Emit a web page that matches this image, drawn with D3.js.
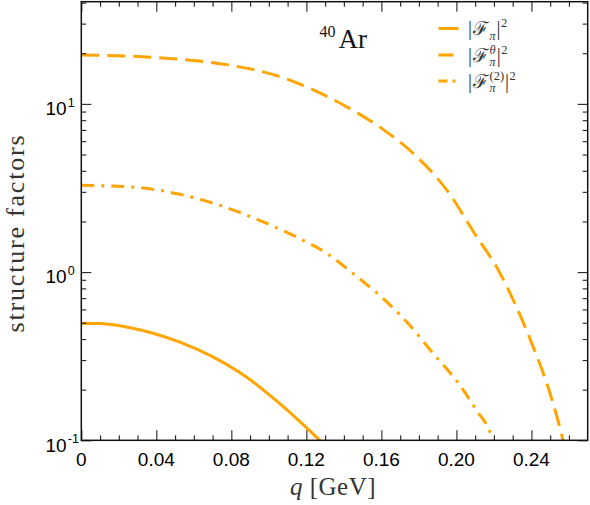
<!DOCTYPE html>
<html><head><meta charset="utf-8">
<script src="https://cdn.jsdelivr.net/npm/d3@7"></script>
<style>body{margin:0;background:#fff}svg{display:block}</style>
</head><body>
<svg id="c" width="590" height="505"></svg>
<script>
// ---- data ----
const qSolid = [0, 0.010, 0.026, 0.0526, 0.0704, 0.0882, 0.106, 0.120, 0.1272];
const vSolid = [0.497, 0.494, 0.467, 0.383, 0.312, 0.237, 0.1645, 0.119, 0.1];

const qTheta = [0, 0.026, 0.0526, 0.079, 0.106, 0.124, 0.1415, 0.159, 0.177, 0.195, 0.211, 0.2215, 0.232, 0.241, 0.250, 0.256, 0.2568];
const vTheta = [19.5, 19.2, 18.4, 17.0, 14.5, 12.06, 9.6, 7.3, 5.07, 3.06, 1.61, 1.07, 0.62, 0.358, 0.189, 0.109, 0.1];

const qTwo = [0, 0.026, 0.0526, 0.074, 0.095, 0.1165, 0.131, 0.145, 0.161, 0.1752, 0.1877, 0.200, 0.2108, 0.2183, 0.2194];
const vTwo = [3.28, 3.21, 2.90, 2.49, 2.03, 1.58, 1.29, 0.978, 0.695, 0.482, 0.327, 0.2266, 0.150, 0.109, 0.1];

const xTicks = [0, 0.04, 0.08, 0.12, 0.16, 0.20, 0.24];
const xTickLabels = ["0", "0.04", "0.08", "0.12", "0.16", "0.20", "0.24"];
const xMinor = d3.range(1, 27).map(i => i / 100);
const yTicks = [0.1, 1, 10];
const yTickExp = ["-1", "0", "1"];
const yMinor = [0.2,0.3,0.4,0.5,0.6,0.7,0.8,0.9,2,3,4,5,6,7,8,9,20,30,40];

const xDomain = [0, 0.27];
const yDomain = [0.1, 40.5];

// ---- layout ----
const M = {l: 81.3, r: 587.7, t: 1.7, b: 440.3};
const COLOR = "#ffa500";
const svg = d3.select("#c");
const x = d3.scaleLinear().domain(xDomain).range([M.l, M.r]);
const y = d3.scaleLog().domain(yDomain).range([M.b, M.t]);

svg.append("defs").append("clipPath").attr("id", "clip")
  .append("rect").attr("x", M.l).attr("y", M.t).attr("width", M.r - M.l).attr("height", M.b - M.t);

// curves
const series = [
  {q: qSolid, v: vSolid, dash: null},
  {q: qTheta, v: vTheta, dash: "18,8"},
  {q: qTwo, v: vTwo, dash: "13,7,3,7"}
];
const line = d3.line().x(d => x(d[0])).y(d => y(d[1])).curve(d3.curveMonotoneX);
const gc = svg.append("g").attr("clip-path", "url(#clip)");
series.forEach(s => {
  gc.append("path").datum(s.q.map((q, i) => [q, s.v[i]]))
    .attr("d", line).attr("fill", "none").attr("stroke", COLOR)
    .attr("stroke-width", 3).attr("stroke-dasharray", s.dash);
});

// axes (ticks pointing inward on all sides)
function styleAxis(g) {
  g.select(".domain").remove();
  g.selectAll(".tick line").attr("stroke", "#222").attr("stroke-width", 1.1);
  g.selectAll(".tick text").remove();
}
const xMinorOnly = xMinor.filter(v => !xTicks.some(t => Math.abs(t - v) < 1e-9));
svg.append("g").attr("transform", `translate(0,${M.b})`)
  .call(d3.axisBottom(x).tickValues(xTicks).tickSize(-10)).call(styleAxis);
svg.append("g").attr("transform", `translate(0,${M.b})`)
  .call(d3.axisBottom(x).tickValues(xMinorOnly).tickSize(-5)).call(styleAxis);
svg.append("g").attr("transform", `translate(0,${M.t})`)
  .call(d3.axisTop(x).tickValues(xTicks).tickSize(-10)).call(styleAxis);
svg.append("g").attr("transform", `translate(0,${M.t})`)
  .call(d3.axisTop(x).tickValues(xMinorOnly).tickSize(-5)).call(styleAxis);
svg.append("g").attr("transform", `translate(${M.l},0)`)
  .call(d3.axisLeft(y).tickValues(yTicks).tickSize(-10)).call(styleAxis);
svg.append("g").attr("transform", `translate(${M.l},0)`)
  .call(d3.axisLeft(y).tickValues(yMinor).tickSize(-5)).call(styleAxis);
svg.append("g").attr("transform", `translate(${M.r},0)`)
  .call(d3.axisRight(y).tickValues(yTicks).tickSize(-10)).call(styleAxis);
svg.append("g").attr("transform", `translate(${M.r},0)`)
  .call(d3.axisRight(y).tickValues(yMinor).tickSize(-5)).call(styleAxis);

// frame
svg.append("rect").attr("x", M.l).attr("y", M.t).attr("width", M.r - M.l).attr("height", M.b - M.t)
  .attr("fill", "none").attr("stroke", "#111").attr("stroke-width", 1.5);

// tick labels
const SANS = "'Liberation Sans', Arial, sans-serif";
const SERIF = "'Liberation Serif', 'Times New Roman', serif";
svg.append("g").selectAll("text").data(xTicks).join("text")
  .attr("x", d => x(d)).attr("y", M.b + 25.5).attr("text-anchor", "middle")
  .attr("font-family", SANS).attr("font-size", 19).attr("fill", "#000")
  .text((d, i) => xTickLabels[i]);
const yl = svg.append("g");
yTicks.forEach((d, i) => {
  yl.append("text").attr("x", 66.7).attr("y", y(d) + 11.3).attr("text-anchor", "end")
    .attr("font-family", SANS).attr("font-size", 19).text("10");
  yl.append("text").attr("x", 67.8).attr("y", y(d) + 3).attr("text-anchor", "start")
    .attr("font-family", SANS).attr("font-size", 12.5).text(yTickExp[i]);
});

// axis titles
svg.append("text").attr("transform", `translate(24,233) rotate(-90)`)
  .attr("text-anchor", "middle").attr("font-family", SERIF).attr("font-size", 26)
  .attr("letter-spacing", 1.8).attr("fill", "#333").text("structure factors");
const xt = svg.append("text").attr("x", 333).attr("y", 495)
  .attr("text-anchor", "middle").attr("font-family", SERIF).attr("font-size", 25)
  .attr("letter-spacing", 0.5).attr("fill", "#333");
xt.append("tspan").attr("font-style", "italic").text("q");
xt.append("tspan").text(" [GeV]");

// 40Ar annotation
const ar = svg.append("text").attr("x", 319.5).attr("y", 47.5).attr("font-family", SERIF).attr("fill", "#111");
ar.append("tspan").attr("font-size", 16).attr("dy", -11).text("40");
ar.append("tspan").attr("font-size", 27).attr("dy", 11).attr("dx", 3).text("Ar");

// legend
const legendRows = [
  {dash: null, sup: "2", script: null},
  {dash: "15,8", sup: "2", script: "θ"},
  {dash: "9,5,3,5", sup: "2", script: "(2)"}
];
const LX0 = 438.5, LX1 = 458.5, TX = 468, rowY = [28.5, 55, 81];
legendRows.forEach((r, i) => {
  const yy = rowY[i];
  svg.append("line").attr("x1", LX0).attr("x2", LX1).attr("y1", yy).attr("y2", yy)
    .attr("stroke", COLOR).attr("stroke-width", 3).attr("stroke-dasharray", r.dash);
  const base = yy + 6.5;
  const g = svg.append("g").attr("font-family", SERIF).attr("fill", "#333");
  let cx = TX;
  const put = (txt, size, dy, italic) => {
    const t = g.append("text").attr("x", cx).attr("y", base + dy).attr("font-size", size)
      .attr("font-style", italic ? "italic" : null).text(txt);
    return t.node().getComputedTextLength();
  };
  cx += put("|", 20, 0, false) + 1;
  cx += put("ℱ", 19, 0, false) + 0.5;
  const wSub = put("π", 12, 4.5, true);
  let wSup = 0;
  if (r.script) wSup = put(r.script, 12.5, -8, r.script === "θ");
  cx += Math.max(wSub, wSup) + 1;
  cx += put("|", 20, 0, false) + 0.5;
  put(r.sup, 12.5, -8, false);
});
</script>
</body></html>
